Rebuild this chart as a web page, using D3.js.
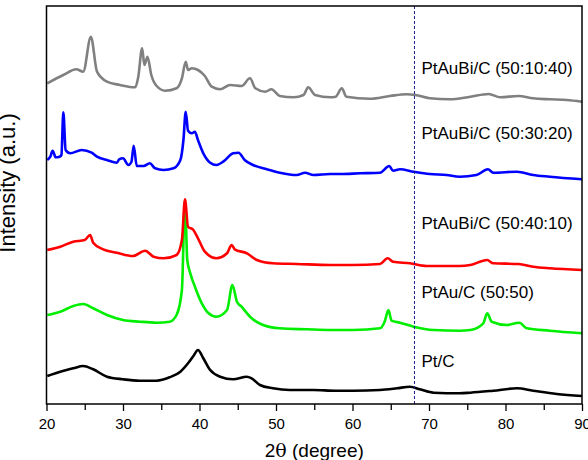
<!DOCTYPE html>
<html>
<head>
<meta charset="utf-8">
<script src="https://cdn.jsdelivr.net/npm/d3@7"></script>
<style>
  html, body { margin: 0; padding: 0; background: #fff; }
  svg { display: block; }
  text { font-family: "Liberation Sans", Arial, sans-serif; fill: #000; }
</style>
</head>
<body>
<svg id="chart" width="588" height="460"></svg>
<script>
// ---------- data (2θ in degrees, intensity in arbitrary units, offset traces) ----------
const seriesNames = ["Pt/C", "PtAu/C (50:50)", "PtAuBi/C (50:40:10)", "PtAuBi/C (50:30:20)", "PtAuBi/C (50:10:40)"];
const seriesColors = ["#000000", "#00ee00", "#ff0000", "#0000ff", "#808080"];

const ptC_x = [20.1,21.8,23.5,24.8,26.1,27.9,30.0,32.2,34.4,36.1,37.5,38.5,39.2,39.8,40.5,41.4,42.7,44.4,46.2,46.8,47.9,49.6,51.8,54.9,57.8,60.1,63.6,65.8,67.5,68.8,70.6,74.0,75.4,78.4,81.5,83.6,86.7,90.0];
const ptC_y = [28,32.3,35.7,38,34.7,27.3,24.7,23.3,23.3,26.7,32.3,40.7,48,54,45.7,34,27.3,24.7,27.3,25.7,19,15.7,14,14,13.3,13.3,14,15.7,17.3,14.7,11.3,10.7,11.3,13.3,15.7,13.3,10,8];

const ptAu_x = [20.1,21.8,23.5,24.8,26.1,27.9,30.0,32.2,34.4,36.1,37.0,37.7,38.1,38.4,38.8,39.4,40.3,41.2,42.2,43.6,44.3,44.9,45.5,46.6,48.3,50.5,54.0,57.1,60.1,63.6,64.2,64.7,65.1,66.2,68.0,70.6,74.0,75.4,77.1,77.6,78.2,80.2,81.8,82.8,85.8,90.0];
const ptAu_y = [89,92.3,98,100,95.7,89,84,82.3,81.3,82.3,89,114,204,144,130.7,117.3,100.7,90.7,87.3,94,119,102.3,97.3,87.3,79,75.7,74.7,74,74,75.7,82.3,94,83.3,81.3,77.3,74,73.3,74,80.7,90.7,82.3,79,81.3,75.7,73.3,70.7];

const ptAuBi4010_x = [20.1,21.8,23.5,25.0,25.7,26.1,27.4,29.2,31.3,32.9,34.0,35.3,37.0,37.7,38.1,38.5,39.2,39.8,40.7,42.2,43.6,44.2,44.6,46.2,47.5,49.6,52.7,57.1,60.1,63.6,64.6,65.3,67.5,69.7,74.0,75.4,77.6,78.4,81.7,83.6,85.8,90.0];
const ptAuBi4010_y = [154,157.3,162.3,164,169,161.3,154.7,151.3,148,153.3,147.3,145.7,149,164,204.7,177.3,174,165.7,152.3,145.7,150.7,159,154.7,150.7,144,140.7,140,139,139,140,145.7,142.3,140.7,138,138,139,144,140.7,140,137.3,135.7,134];

const ptAuBi3020_x = [20.1,20.5,20.8,21.2,21.7,21.95,22.2,22.5,23.1,24.6,25.9,26.6,27.9,29.2,29.5,30.0,30.7,31.1,31.4,31.8,32.7,33.5,34.2,35.3,36.6,37.5,37.9,38.2,38.5,39.0,39.4,39.8,40.5,41.4,42.2,43.1,44.4,45.1,45.9,47.0,48.8,50.5,52.7,53.8,54.9,57.1,58.4,61.0,63.6,64.8,65.3,66.2,68.0,70.1,72.3,74.0,76.2,77.7,78.4,81.5,83.6,85.8,90.0];
const ptAuBi3020_y = [244,247.3,253.3,246.7,247.3,249,291.7,254,250.7,254,251.3,247.3,244,241.3,244.7,245.7,239,242,258.3,238,238,240.7,235.7,234,235.7,244,264,292.3,273.3,270.7,272.3,264,250.7,241.3,239,242.3,250.7,251.3,244,239,234.7,231.3,229,231.3,229,230,230,230.7,231.3,238,233.3,234.7,232.3,230,229,227.3,229,234.7,231.3,232.3,229,227.3,224.7];

const ptAuBi1040_x = [20.1,22.2,23.9,24.8,25.8,26.6,27.9,29.6,31.6,32.0,32.5,32.8,33.2,33.7,34.4,35.5,37.0,37.7,38.2,38.5,39.0,39.8,40.7,41.6,42.7,44.0,45.5,46.6,47.3,48.6,49.4,50.5,52.3,53.6,54.2,55.1,57.1,57.8,58.6,59.2,62.3,64.9,67.1,68.2,70.1,72.7,75.4,77.8,79.3,81.7,83.6,85.8,88.0,90.0];
const ptAuBi1040_y = [320.7,329,334.7,332.3,367.3,332.3,322.3,319,316.7,327.3,355.7,339,347.3,329,318,313.3,315.7,325.7,342.3,334,335.7,334,328,317.3,314.7,319,318,325.7,315.7,312.3,314.7,308,306.7,309,316.7,309,306.7,307.3,315.7,307.3,305.3,308,309.7,309,305.7,304.7,307.3,310,306.7,308,305.7,304.7,304,302.3];

const seriesX = [ptC_x, ptAu_x, ptAuBi4010_x, ptAuBi3020_x, ptAuBi1040_x];
const seriesY = [ptC_y, ptAu_y, ptAuBi4010_y, ptAuBi3020_y, ptAuBi1040_y];

const xTicksMajor = [20, 30, 40, 50, 60, 70, 80, 90];
const xTicksMinor = [25, 35, 45, 55, 65, 75, 85];
const refLine2Theta = 68.1;
const labelAnchorY = [37, 106, 175, 265, 330]; // intensity level at which each label sits

// ---------- layout ----------
const svg = d3.select("#chart");
const m = { left: 46.5, right: 582, top: 6, bottom: 404 };

const x = d3.scaleLinear().domain([20, 90]).range([m.left, m.right]);
const y = d3.scaleLinear().domain([0, 398]).range([m.bottom, m.top]);

// traces
const line = d3.line().x(d => x(d[0])).y(d => y(d[1])).curve(d3.curveMonotoneX);
seriesX.forEach((xs, i) => {
  const pts = xs.map((v, j) => [v, seriesY[i][j]]);
  svg.append("path")
    .attr("d", line(pts))
    .attr("fill", "none")
    .attr("stroke", seriesColors[i])
    .attr("stroke-width", 2.6)
    .attr("stroke-linejoin", "round");
});

// dashed reference line
svg.append("line")
  .attr("x1", x(refLine2Theta)).attr("x2", x(refLine2Theta))
  .attr("y1", m.top).attr("y2", m.bottom)
  .attr("stroke", "#1c1c8c").attr("stroke-width", 1)
  .attr("stroke-dasharray", "3,2");

// frame
svg.append("rect")
  .attr("x", m.left).attr("y", m.top)
  .attr("width", m.right - m.left).attr("height", m.bottom - m.top)
  .attr("fill", "none").attr("stroke", "#000").attr("stroke-width", 1.5);

// bottom axis
const xAxis = d3.axisBottom(x).tickValues(xTicksMajor).tickSize(7).tickPadding(7)
  .tickFormat(d3.format("d"));
const gx = svg.append("g").attr("transform", `translate(0,${m.bottom})`).call(xAxis);
gx.select(".domain").remove();
gx.selectAll("line").attr("stroke", "#000").attr("stroke-width", 1.3);
gx.selectAll("text").style("font-size", "15px").attr("font-family", "Liberation Sans, Arial, sans-serif");
const xMinor = d3.axisBottom(x).tickValues(xTicksMinor).tickSize(6).tickFormat("");
const gxm = svg.append("g").attr("transform", `translate(0,${m.bottom})`).call(xMinor);
gxm.select(".domain").remove();
gxm.selectAll("line").attr("stroke", "#000").attr("stroke-width", 1.3);

// series labels
seriesNames.forEach((name, i) => {
  svg.append("text")
    .attr("x", x(refLine2Theta) + 7)
    .attr("y", y(labelAnchorY[i]))
    .style("font-size", "17px")
    .text(name);
});

// axis titles
const xt = svg.append("text")
  .attr("x", (m.left + m.right) / 2).attr("y", 457)
  .attr("text-anchor", "middle")
  .style("font-size", "19px");
xt.append("tspan").text("2");
xt.append("tspan").text("θ").style("font-family", "DejaVu Serif, serif");
xt.append("tspan").text(" (degree)");

svg.append("text")
  .attr("transform", `translate(15,${(m.top + m.bottom) / 2 - 22}) rotate(-90)`)
  .attr("text-anchor", "middle")
  .style("font-size", "22px")
  .text("Intensity (a.u.)");
</script>
</body>
</html>
